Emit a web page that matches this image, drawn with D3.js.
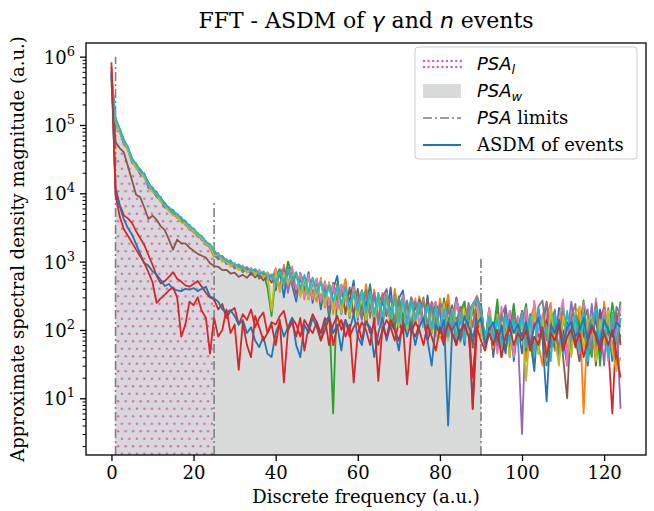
<!DOCTYPE html>
<html>
<head>
<meta charset="utf-8">
<script src="https://cdn.jsdelivr.net/npm/d3@7"></script>
<style>
    body { margin: 0; background: #fff; }
    svg text { font-family: "DejaVu Serif", serif; fill: #000; }
    .math { font-family: "DejaVu Sans", sans-serif; font-style: italic; }
</style>
</head>
<body>
<div id="chart"></div>
<script>
// discrete frequency bins 0..124
const freqs = d3.range(0, 125)
const xTicks = [0, 20, 40, 60, 80, 100, 120]
const yTicks = [1e1, 1e2, 1e3, 1e4, 1e5, 1e6]
const psaLimits = [1, 25, 90]
const psaLimitTops = [1e6, 7400, 1170]
const psaLRange = [1, 25]
const psaWRange = [1, 90]

// gamma events
const gammaBlue = [520000,118000,88000,56000,47000,30000,27500,20000,19500,13000,12200,9400,8800,6600,6300,5200,5000,4200,3950,3200,3050,2500,2350,1900,1780,
    1420,1150,1210,980,1010,840,900,720,830,690,770,610,700,560,640,380,720,300,820,450,260,610,330,700,250,
    560,200,480,150,390,620,180,420,260,530,140,380,220,470,120,330,250,160,420,110,290,380,130,300,200,
    260,110,320,90,240,180,70,280,130,300,150,60,230,7,250,120,60,180,40,150,80,45,190,35,120,
    45,160,70,25,190,90,35,140,50,210,80,30,130,55,170,95,30,120,60,200,75,110,35,150,65]
const gammaOrange = [560000,108000,83000,57000,42000,30500,23500,20500,17000,13300,10400,9700,7500,6800,5500,5300,4300,4300,3400,3250,2650,2550,2050,1950,1550,
    1180,1320,1000,1090,850,960,760,880,690,810,650,760,590,700,560,800,380,900,420,750,330,680,280,620,350,
    260,580,210,500,170,460,310,560,180,420,240,160,470,200,390,140,350,280,110,400,170,320,100,300,150,
    310,120,270,180,80,290,150,330,110,240,140,260,90,200,320,210,70,160,50,240,70,190,45,140,90,
    190,35,140,230,60,30,160,250,50,120,210,45,170,70,220,6,140,55,200,40,260,90,160,30,150]
const gammaGreen = [450000,125000,88000,62000,46000,33000,26000,22500,18200,14600,11300,10500,8200,7300,5900,5700,4700,4500,3600,3450,2800,2650,2100,1980,1600,
    1250,1100,1180,940,1050,800,880,700,820,640,760,560,690,420,160,620,780,450,1000,640,330,690,380,640,280,
    560,240,500,200,6,480,230,430,150,380,200,340,120,420,170,300,110,360,190,100,310,150,260,90,250,
    180,300,100,250,140,80,290,130,230,60,190,260,90,210,110,240,55,180,90,280,40,200,100,240,70,
    130,240,70,40,190,100,260,55,170,35,220,90,45,180,110,270,70,40,200,30,160,85,250,110,260]
const gammaPurple = [480000,106000,82000,52000,45000,28000,25000,18800,17900,12000,11000,8800,8000,6200,5800,4850,4600,3900,3600,2950,2800,2300,2200,1760,1650,
    1350,1080,1170,920,990,790,880,720,800,650,740,590,670,540,610,420,690,800,350,760,300,640,520,280,470,
    520,250,460,190,480,330,170,420,160,390,250,140,380,200,350,120,300,400,140,280,110,330,160,250,120,
    270,140,80,260,110,240,70,210,100,290,160,80,250,110,300,200,60,180,90,50,160,230,60,150,80,
    3,190,60,230,45,160,250,70,200,40,150,80,260,100,35,170,70,240,50,140,30,210,45,160,7]
const gammaPink = [540000,116000,82000,58500,44000,31500,24800,21200,17600,13700,10800,9900,7800,6950,5700,5450,4500,4400,3500,3350,2750,2600,2150,2000,1600,
    1280,1350,1020,1110,900,960,780,870,710,800,680,740,600,680,540,760,360,700,450,850,390,680,300,640,280,
    570,260,520,230,470,200,450,280,180,430,190,380,150,360,170,340,120,350,150,310,110,320,170,130,290,
    120,280,100,220,260,90,240,120,80,260,160,70,190,240,270,120,55,210,100,45,220,70,190,40,160,
    100,210,50,270,90,170,40,220,70,150,280,30,190,100,45,250,160,60,290,90,200,35,170,80,230]
const gammaGray = [500000,110000,84000,54500,45800,29200,25800,19400,18600,12600,11400,9200,8300,6400,6000,5050,4750,4050,3700,3100,2900,2400,2270,1840,1700,
    1330,1170,1150,960,1000,850,860,760,780,720,730,640,700,590,620,680,400,560,750,440,660,350,600,300,520,
    330,520,250,480,220,450,190,410,170,390,340,160,380,150,330,140,330,170,300,130,290,120,270,110,260,
    170,260,120,230,100,210,250,90,200,130,220,80,180,240,300,190,70,160,80,60,170,100,70,180,110,
    180,60,160,45,220,270,70,140,190,40,170,80,150,240,55,140,200,45,250,90,70,170,50,220,160]
const gammaOlive = [470000,111000,80000,56500,43000,30200,24000,20200,17300,13300,10500,9700,7600,6700,5500,4700,4700,3700,3650,3050,2850,2400,2250,1820,1680,
    1220,1260,1050,1000,870,930,760,820,700,770,660,720,590,650,190,720,380,660,480,630,700,300,610,280,560,
    300,540,230,490,200,430,180,420,160,390,150,380,140,350,130,330,160,310,120,300,110,270,100,260,120,
    250,110,220,90,210,80,240,70,200,110,65,190,90,230,210,90,60,180,55,170,50,150,40,140,60,
    150,18,120,190,45,140,35,200,75,30,160,90,40,170,220,50,130,160,35,140,60,190,50,25,40]
const gammaCyan = [530000,117000,89000,58000,48500,31000,27300,20800,19400,13300,11800,9600,8600,6800,6200,5300,4950,4250,3850,3300,3050,2550,2370,1950,1800,
    1460,1230,1200,1020,1030,880,910,800,830,730,780,660,720,610,650,480,720,460,780,520,700,400,640,350,590,
    350,500,300,450,260,430,240,420,210,360,190,380,180,350,170,330,150,320,140,300,130,280,120,270,140,
    250,120,230,100,220,90,200,80,190,75,180,70,170,230,280,210,70,160,60,150,55,170,65,140,60,
    180,55,160,40,200,80,110,35,170,90,45,190,70,160,50,180,35,140,200,55,160,40,180,65,150]
// event between the two groups
const mixedBrown = [400000,56000,46000,40000,25000,15500,9500,8800,6200,4200,4700,4100,3300,2900,2100,1500,2100,1850,1850,1600,1450,1300,1220,1150,950,
    860,840,750,760,670,690,600,640,580,680,590,650,530,620,490,700,400,720,460,740,350,620,330,640,300,
    520,260,470,220,490,200,460,170,420,160,400,190,150,380,140,350,130,370,130,320,110,310,100,290,120,
    280,110,290,90,250,80,230,75,220,60,210,90,200,55,190,240,65,210,45,180,55,200,40,170,70,
    190,50,170,35,210,80,30,180,55,160,40,10,190,75,35,170,50,160,30,150,210,40,130,180,60]
// neutron events
const neutronRedA = [700000,12000,6800,4800,4300,3700,2800,2200,1750,1250,900,620,480,520,600,700,560,510,450,430,470,520,430,350,300,
    280,200,240,150,190,210,120,170,140,200,110,150,180,90,130,120,160,190,100,150,120,80,140,110,170,
    130,90,150,60,120,160,100,140,80,110,130,70,150,90,120,60,100,140,110,70,130,90,150,100,80,
    120,140,70,110,130,90,60,120,100,150,80,110,130,7,100,140,70,110,90,60,120,80,100,140,70,
    90,110,60,130,80,100,140,70,120,50,90,130,100,60,110,80,120,90,140,70,100,60,6,110,80]
const neutronBlue = [600000,10500,6500,4200,3100,2500,1800,1300,950,880,720,650,540,440,470,400,380,370,400,390,410,370,400,430,310,
    290,260,200,180,195,160,120,140,90,110,70,56,80,45,40,90,130,80,110,150,60,40,120,90,150,
    110,70,130,160,90,120,50,140,100,170,80,60,130,110,40,90,150,70,120,100,50,140,80,130,60,
    110,150,70,30,120,90,140,4,100,130,70,160,110,80,120,150,60,100,130,70,110,50,140,90,120,
    80,130,60,110,150,70,9,120,90,140,60,110,130,80,100,150,70,120,90,60,140,100,80,130,110]
const neutronRedB = [830000,9500,4600,3000,2400,1900,1500,1200,950,700,500,250,290,330,380,420,300,80,120,260,230,300,190,150,45,
    150,80,100,200,90,120,26,130,60,40,160,110,70,90,120,60,140,17,100,130,80,150,50,110,90,
    130,70,100,150,60,110,140,80,120,17,90,130,100,60,150,18,110,80,140,100,70,120,16,90,130,
    100,60,120,80,50,110,70,130,90,60,100,120,80,20,110,70,50,90,60,100,40,80,110,60,90,
    70,100,50,80,60,110,40,90,70,120,50,80,100,60,90,40,70,110,80,50,90,60,100,45,20]

const events = [gammaBlue, gammaOrange, gammaGreen, neutronRedA, gammaPurple, mixedBrown,
    gammaPink, gammaGray, gammaOlive, gammaCyan, neutronBlue, neutronRedB]
const eventColors = ["#1f77b4", "#ff7f0e", "#2ca02c", "#d62728", "#9467bd", "#8c564b",
    "#e377c2", "#7f7f7f", "#bcbd22", "#17becf", "#1f77b4", "#d62728"]
const gammaEvents = [gammaBlue, gammaOrange, gammaGreen, gammaPurple, gammaPink, gammaGray, gammaOlive, gammaCyan]

const width = 654, height = 511
const margin = {top: 43, right: 8, bottom: 56, left: 86}
const plotW = width - margin.left - margin.right
const plotH = height - margin.top - margin.bottom

let svg = d3.select("#chart").append("svg")
    .attr("width", width)
    .attr("height", height)

let defs = svg.append("defs")
defs.append("clipPath").attr("id", "plot-clip")
    .append("rect")
    .attr("x", margin.left).attr("y", margin.top)
    .attr("width", plotW).attr("height", plotH)

// staggered dot hatch for PSA_l
let hatch = defs.append("pattern")
    .attr("id", "dots")
    .attr("patternUnits", "userSpaceOnUse")
    .attr("width", 7.5).attr("height", 15)
hatch.append("circle").attr("cx", 1.9).attr("cy", 3.7).attr("r", 1.25).attr("fill", "#c27ab3")
hatch.append("circle").attr("cx", 5.65).attr("cy", 11.2).attr("r", 1.25).attr("fill", "#c27ab3")

let x = d3.scaleLinear().domain([-6.2, 130.2]).range([margin.left, width - margin.right])
let y = d3.scaleLog().domain([Math.pow(10, 0.17), Math.pow(10, 6.2)]).range([height - margin.bottom, margin.top])

// fill top follows the geometric mean of the gamma events
let envelope = freqs.map(i => Math.exp(d3.mean(gammaEvents, s => Math.log(s[i]))))

let area = d3.area()
    .x(d => x(d))
    .y0(height - margin.bottom)
    .y1(d => y(envelope[d]))

let plot = svg.append("g").attr("clip-path", "url(#plot-clip)")

plot.append("path")
    .datum(freqs.filter(f => f >= psaWRange[0] && f <= psaWRange[1]))
    .attr("d", area)
    .attr("fill", "#d9dada")

let lRange = freqs.filter(f => f >= psaLRange[0] && f <= psaLRange[1])
plot.append("path").datum(lRange).attr("d", area)
    .attr("fill", "#e6c8df").attr("fill-opacity", 0.2)
plot.append("path").datum(lRange).attr("d", area)
    .attr("fill", "url(#dots)")

plot.selectAll(".limit")
    .data(psaLimits)
    .enter().append("line")
    .attr("class", "limit")
    .attr("x1", d => x(d)).attr("x2", d => x(d))
    .attr("y1", height - margin.bottom)
    .attr("y2", (d, i) => y(psaLimitTops[i]))
    .attr("stroke", "#7f7f7f")
    .attr("stroke-width", 1.6)
    .attr("stroke-dasharray", "9,3,2,3")

let line = d3.line()
    .x((d, i) => x(freqs[i]))
    .y(d => y(d))

plot.selectAll(".event")
    .data(events)
    .enter().append("path")
    .attr("class", "event")
    .attr("d", line)
    .attr("fill", "none")
    .attr("stroke", (d, i) => eventColors[i])
    .attr("stroke-width", 1.8)
    .attr("stroke-linejoin", "round")

// axes
let xAxis = svg.append("g")
    .attr("transform", `translate(0,${height - margin.bottom})`)
    .call(d3.axisBottom(x).tickValues(xTicks).tickSize(6).tickSizeOuter(0).tickPadding(5))
xAxis.select(".domain").remove()
xAxis.selectAll("text").attr("font-size", 18).attr("font-family", "DejaVu Serif")
xAxis.selectAll("line").attr("stroke-width", 1.3)

let minorTicks = []
for (let p = 0; p <= 5; p++) {
    for (let m = 2; m <= 9; m++) {
        let v = m * Math.pow(10, p)
        if (v >= y.domain()[0] && v <= y.domain()[1]) minorTicks.push(v)
    }
}
let yMinor = svg.append("g")
    .attr("transform", `translate(${margin.left},0)`)
    .call(d3.axisLeft(y).tickValues(minorTicks).tickSize(3.5).tickFormat(""))
yMinor.select(".domain").remove()
yMinor.selectAll("line").attr("stroke-width", 1)

let yAxis = svg.append("g")
    .attr("transform", `translate(${margin.left},0)`)
    .call(d3.axisLeft(y).tickValues(yTicks).tickSize(6).tickFormat(""))
yAxis.select(".domain").remove()
yAxis.selectAll("line").attr("stroke-width", 1.3)

let yLabels = svg.append("g").selectAll("text")
    .data(yTicks)
    .enter().append("text")
    .attr("x", margin.left - 11)
    .attr("y", d => y(d) + 7)
    .attr("text-anchor", "end")
    .attr("font-size", 18)
yLabels.append("tspan").text("10")
yLabels.append("tspan").attr("dy", -8).attr("font-size", 13).text(d => Math.round(Math.log10(d)))

svg.append("rect")
    .attr("x", margin.left).attr("y", margin.top)
    .attr("width", plotW).attr("height", plotH)
    .attr("fill", "none").attr("stroke", "#000").attr("stroke-width", 1.3)

// labels
let title = svg.append("text")
    .attr("x", margin.left + plotW / 2).attr("y", 28)
    .attr("text-anchor", "middle").attr("font-size", 22)
title.append("tspan").text("FFT - ASDM of ")
title.append("tspan").attr("class", "math").text("γ")
title.append("tspan").text(" and ")
title.append("tspan").attr("class", "math").text("n")
title.append("tspan").text(" events")

svg.append("text")
    .attr("x", margin.left + plotW / 2).attr("y", 503)
    .attr("text-anchor", "middle").attr("font-size", 18)
    .text("Discrete frequency (a.u.)")

svg.append("text")
    .attr("transform", `translate(24,${margin.top + plotH / 2}) rotate(-90)`)
    .attr("text-anchor", "middle").attr("font-size", 18)
    .text("Approximate spectral density magnitude (a.u.)")

// legend
let legend = svg.append("g").attr("transform", "translate(415,47)")
legend.append("rect")
    .attr("width", 222).attr("height", 112).attr("rx", 3)
    .attr("fill", "#fff").attr("fill-opacity", 0.8)
    .attr("stroke", "#cccccc").attr("stroke-width", 1)

let rowY = [17, 44, 71, 98]
let hx0 = 8, hx1 = 46, tx = 62

// PSA_l handle: two rows of dots
d3.range(hx0 + 1, hx1, 4.6).forEach(cx => {
    legend.append("circle").attr("cx", cx).attr("cy", rowY[0] - 3).attr("r", 1.2).attr("fill", "#d45bb0")
    legend.append("circle").attr("cx", cx).attr("cy", rowY[0] + 3).attr("r", 1.2).attr("fill", "#d45bb0")
})
legend.append("rect")
    .attr("x", hx0).attr("y", rowY[1] - 7).attr("width", hx1 - hx0).attr("height", 14)
    .attr("fill", "#d9dada")
legend.append("line")
    .attr("x1", hx0).attr("x2", hx1).attr("y1", rowY[2]).attr("y2", rowY[2])
    .attr("stroke", "#7f7f7f").attr("stroke-width", 1.6).attr("stroke-dasharray", "9,3,2,3")
legend.append("line")
    .attr("x1", hx0).attr("x2", hx1).attr("y1", rowY[3]).attr("y2", rowY[3])
    .attr("stroke", "#1f77b4").attr("stroke-width", 1.8)

let t1 = legend.append("text").attr("x", tx).attr("y", rowY[0] + 6).attr("font-size", 18)
t1.append("tspan").attr("class", "math").text("PSA")
t1.append("tspan").attr("class", "math").attr("font-size", 13).attr("dy", 4).text("l")

let t2 = legend.append("text").attr("x", tx).attr("y", rowY[1] + 6).attr("font-size", 18)
t2.append("tspan").attr("class", "math").text("PSA")
t2.append("tspan").attr("class", "math").attr("font-size", 13).attr("dy", 4).text("w")

let t3 = legend.append("text").attr("x", tx).attr("y", rowY[2] + 6).attr("font-size", 18)
t3.append("tspan").attr("class", "math").text("PSA")
t3.append("tspan").text(" limits")

legend.append("text").attr("x", tx).attr("y", rowY[3] + 6).attr("font-size", 18)
    .text("ASDM of events")
</script>
</body>
</html>
